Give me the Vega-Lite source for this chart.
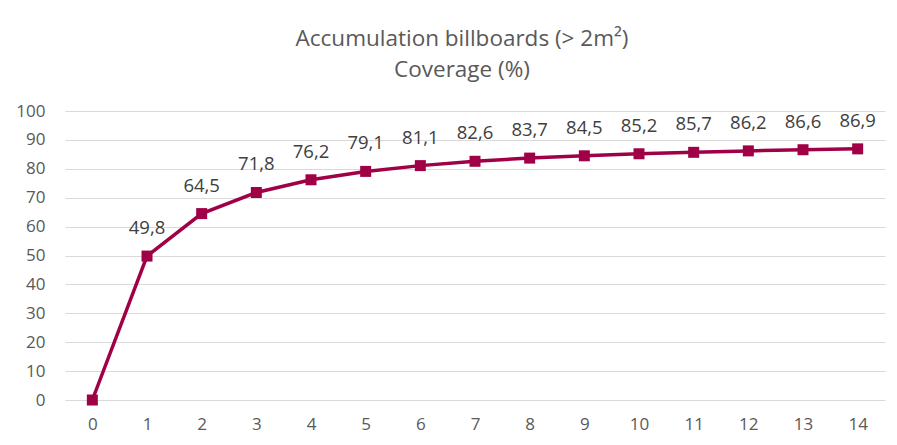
{
  "$schema": "https://vega.github.io/schema/vega-lite/v6.json",
  "width": 820,
  "height": 289,
  "autosize": {"type": "none"},
  "padding": {"left": 65, "top": 111, "right": 12, "bottom": 45},
  "background": "white",
  "config": {
    "view": {"stroke": null},
    "font": "Open Sans",
    "locale": {"number": {"decimal": ",", "thousands": ".", "grouping": [3], "currency": ["", " €"]}}
  },
  "title": {
    "text": ["Accumulation billboards (> 2m²)", "Coverage (%)"],
    "fontSize": 22.5,
    "fontWeight": "normal",
    "color": "#595959",
    "font": "Open Sans",
    "lineHeight": 31,
    "offset": 21,
    "anchor": "middle",
    "dx": -13
  },
  "data": {
    "values": [
      {"x": 0, "v": 0},
      {"x": 1, "v": 49.8},
      {"x": 2, "v": 64.5},
      {"x": 3, "v": 71.8},
      {"x": 4, "v": 76.2},
      {"x": 5, "v": 79.1},
      {"x": 6, "v": 81.1},
      {"x": 7, "v": 82.6},
      {"x": 8, "v": 83.7},
      {"x": 9, "v": 84.5},
      {"x": 10, "v": 85.2},
      {"x": 11, "v": 85.7},
      {"x": 12, "v": 86.2},
      {"x": 13, "v": 86.6},
      {"x": 14, "v": 86.9}
    ]
  },
  "encoding": {
    "x": {
      "field": "x",
      "type": "ordinal",
      "scale": {"type": "point", "padding": 0.5},
      "axis": {
        "title": null,
        "labelAngle": 0,
        "domain": false,
        "ticks": false,
        "grid": false,
        "labelPadding": 16,
        "labelFontSize": 17,
        "labelColor": "#595959",
        "labelFont": "Open Sans"
      }
    },
    "y": {
      "field": "v",
      "type": "quantitative",
      "scale": {"domain": [0, 100], "nice": false},
      "axis": {
        "title": null,
        "values": [0, 10, 20, 30, 40, 50, 60, 70, 80, 90, 100],
        "domain": false,
        "ticks": false,
        "gridColor": "#d9d9d9",
        "gridWidth": 1,
        "labelPadding": 20,
        "labelFontSize": 17,
        "labelColor": "#595959",
        "labelFont": "Open Sans"
      }
    }
  },
  "layer": [
    {"mark": {"type": "line", "color": "#A00046", "strokeWidth": 3.5}},
    {"mark": {"type": "point", "shape": "square", "filled": true, "opacity": 1, "size": 121, "color": "#A00046"}},
    {
      "transform": [{"filter": "datum.x > 0"}],
      "mark": {"type": "text", "dy": -28, "fontSize": 18.5, "color": "#404040", "baseline": "middle", "font": "Open Sans"},
      "encoding": {"text": {"field": "v", "type": "quantitative", "format": ".1f"}}
    }
  ]
}
